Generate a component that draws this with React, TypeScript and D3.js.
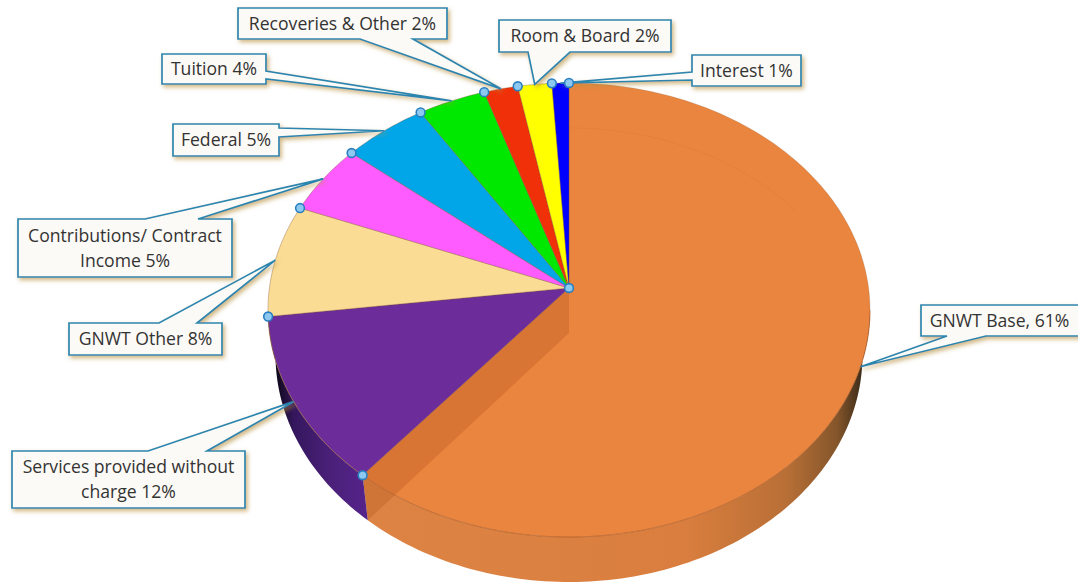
import React from "react";
import * as d3 from "d3";

// Revenue sources, in percent, clockwise from twelve o'clock.
const categories = [
  "GNWT Base",
  "Services provided without charge",
  "GNWT Other",
  "Contributions/ Contract Income",
  "Federal",
  "Tuition",
  "Recoveries & Other",
  "Room & Board",
  "Interest",
];
const shares = [61, 12, 8, 5, 5, 4, 2, 2, 1];
const sliceColors = ["#E9853F", "#6C2D9B", "#FBDC95", "#FF5CFF", "#00A6E8", "#00E800", "#F03008", "#FFFF00", "#0000FF"];

// Wrapped callout text, one entry per category.
const calloutLines = [
  ["GNWT Base, 61%"],
  ["Services provided without", "charge 12%"],
  ["GNWT Other 8%"],
  ["Contributions/ Contract", "Income 5%"],
  ["Federal 5%"],
  ["Tuition 4%"],
  ["Recoveries & Other 2%"],
  ["Room & Board 2%"],
  ["Interest 1%"],
];

// Callout boxes: x0, y0, x1, y1, the side the pointer leaves from, and the two pointer base positions.
type Box = [number, number, number, number, "top" | "bottom" | "left" | "right", number, number];
const calloutBoxes: Box[] = [
  [921, 305, 1080, 336, "bottom", 947, 986],
  [12, 451, 245, 508, "top", 148, 207],
  [69, 323, 222, 355, "top", 159, 197],
  [18, 219, 232, 277, "top", 145, 198],
  [173, 124, 279, 156, "right", 128, 137],
  [162, 54, 266, 84, "right", 71, 79],
  [238, 8, 447, 39, "bottom", 360, 413],
  [499, 20, 671, 52, "bottom", 528, 570],
  [692, 55, 801, 86, "left", 72, 80],
];

const width = 1078;
const height = 584;

// Perspective disc: the apex is the projected centre of the circle.
const apex = { x: 569, y: 288 };
const perspective = 0.0969;
const radiusX = 299.6;
const radiusY = 224.9;
const depth = 45;
const floorScale = 0.975;

type Pt = [number, number];

function rim(angle: number): Pt {
  const u = Math.sin(angle);
  const v = -Math.cos(angle);
  const w = 1 - perspective * v;
  return [apex.x + (radiusX * u) / w, apex.y + (radiusY * v) / w];
}

function floor([x, y]: Pt): Pt {
  return [apex.x + (x - apex.x) * floorScale, y + depth];
}

function sampleArc(a0: number, a1: number): Pt[] {
  const steps = Math.max(2, Math.ceil(Math.abs(a1 - a0) / 0.02));
  return d3.range(steps + 1).map((i) => rim(a0 + ((a1 - a0) * i) / steps));
}

const pathOf = d3.line<Pt>();
const closed = (pts: Pt[]) => pathOf(pts) + "Z";

const arcs = d3
  .pie<number>()
  .sort(null)
  .value((d) => d)(shares);

const deg = Math.PI / 180;
const wallStart = 95.6 * deg;
const wallEnd = 264.4 * deg;

function wall(a0: number, a1: number) {
  const top = sampleArc(a0, a1);
  return closed([...top, ...top.slice().reverse().map(floor)]);
}

function calloutPath(box: Box, tip: Pt) {
  const [x0, y0, x1, y1, side, b0, b1] = box;
  const pts: Pt[] = [[x0, y0]];
  if (side === "top") pts.push([b0, y0], tip, [b1, y0]);
  pts.push([x1, y0]);
  if (side === "right") pts.push([x1, b0], tip, [x1, b1]);
  pts.push([x1, y1]);
  if (side === "bottom") pts.push([b1, y1], tip, [b0, y1]);
  pts.push([x0, y1]);
  if (side === "left") pts.push([x0, b1], tip, [x0, b0]);
  return closed(pts);
}

export default function App() {
  const orange = arcs[0];
  const purple = arcs[1];
  const orangeEnd = orange.endAngle;
  const cutRim = rim(orangeEnd);
  const apexPt: Pt = [apex.x, apex.y];
  const apexFloor = floor(apexPt);

  // Handles sit on the apex and on every slice boundary.
  const handles: Pt[] = [apexPt, rim(0), ...arcs.slice(0, -1).map((a) => rim(a.endAngle))];

  return (
    <svg
      width={width}
      height={height}
      style={{ position: "absolute", left: 0, top: 0, background: "#fff" }}
      fontFamily="'Open Sans', sans-serif"
    >
      <defs>
        <linearGradient id="orangeWall" gradientUnits="userSpaceOnUse" x1={360} x2={862} y1={0} y2={0}>
          <stop offset="0" stopColor="#dd8445" />
          <stop offset="0.65" stopColor="#d97e3e" />
          <stop offset="0.85" stopColor="#b86f36" />
          <stop offset="0.95" stopColor="#85562b" />
          <stop offset="1" stopColor="#3d2c1a" />
        </linearGradient>
        <linearGradient id="purpleWall" gradientUnits="userSpaceOnUse" x1={276} x2={366} y1={0} y2={0}>
          <stop offset="0" stopColor="#0d0818" />
          <stop offset="0.2" stopColor="#35175e" />
          <stop offset="0.6" stopColor="#4a2079" />
          <stop offset="1" stopColor="#55238a" />
        </linearGradient>
        <filter id="calloutShadow" x="-10%" y="-20%" width="125%" height="150%">
          <feDropShadow dx="2" dy="2.5" stdDeviation="2.2" floodColor="#b8913f" floodOpacity="0.65" />
        </filter>
      </defs>

      {/* Outer walls of the disc */}
      <path d={wall(wallStart, orangeEnd)} fill="url(#orangeWall)" />
      <path d={wall(orangeEnd, wallEnd)} fill="url(#purpleWall)" />

      {/* Top faces */}
      {arcs.map((a, i) => (
        <path
          key={categories[i]}
          d={closed([apexPt, ...sampleArc(a.startAngle, a.endAngle)])}
          fill={sliceColors[i]}
          stroke="#7a5030"
          strokeOpacity={i === 0 ? 0.25 : 0.45}
          strokeWidth={0.8}
        />
      ))}

      {/* Far edge of the floor and the cut wall, showing through the translucent large slice */}
      <path
        d={pathOf(sampleArc(0, orange.startAngle + 55 * deg).map(floor)) ?? ""}
        fill="none"
        stroke="#d5722f"
        strokeOpacity={0.25}
        strokeWidth={1}
      />
      <path
        d={closed([apexPt, cutRim, floor(cutRim), apexFloor])}
        fill="#b4521c"
        fillOpacity={0.3}
      />
      <path
        d={pathOf(sampleArc(wallStart, orangeEnd)) ?? ""}
        fill="none"
        stroke="#b85f26"
        strokeOpacity={0.6}
        strokeWidth={1}
      />
      <path
        d={pathOf(sampleArc(purple.startAngle, purple.endAngle)) ?? ""}
        fill="none"
        stroke="#b0764a"
        strokeOpacity={0.6}
        strokeWidth={0.8}
      />

      {/* Callouts, each pointing at the middle of its slice */}
      {arcs.map((a, i) => {
        const box = calloutBoxes[i];
        const tip = rim((a.startAngle + a.endAngle) / 2);
        const lines = calloutLines[i];
        const cx = (box[0] + Math.min(box[2], 1078)) / 2;
        const cy = (box[1] + box[3]) / 2;
        const lineGap = 25;
        return (
          <g key={categories[i]}>
            <path
              d={calloutPath(box, tip)}
              fill="#FCFAF6"
              stroke="#2C86AE"
              strokeWidth={1.7}
              strokeLinejoin="miter"
              filter="url(#calloutShadow)"
            />
            <text textAnchor="middle" fontSize={17.6} fill="#333333">
              {lines.map((line, j) => (
                <tspan key={line} x={cx} y={cy + 6 + (j - (lines.length - 1) / 2) * lineGap}>
                  {line}
                </tspan>
              ))}
            </text>
          </g>
        );
      })}

      {/* Selection handles */}
      {handles.map((p, i) => (
        <circle key={i} cx={p[0]} cy={p[1]} r={4.4} fill="#8CC8F0" stroke="#2A7FC0" strokeWidth={1.6} />
      ))}
    </svg>
  );
}
